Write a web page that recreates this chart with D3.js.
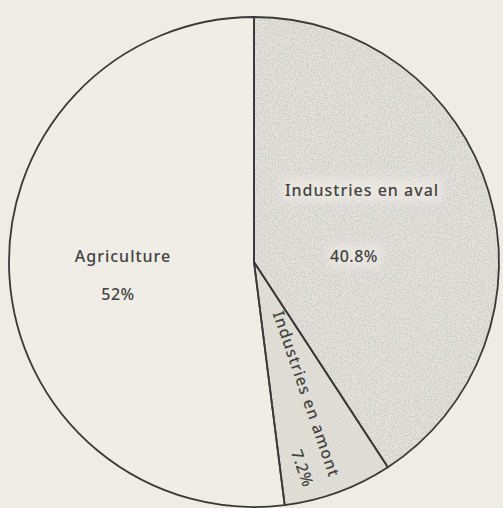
<!DOCTYPE html>
<html>
<head>
<meta charset="utf-8">
<script src="https://cdn.jsdelivr.net/npm/d3@7"></script>
<style>
  body { margin: 0; background: #eeece4; }
  svg { display: block; }
  text { font-family: "Noto Sans", "DejaVu Sans", sans-serif; fill: #43423f; font-weight: 500; }
</style>
</head>
<body>
<div id="chart"></div>
<script>
// data
var sectors = ['Industries en aval', 'Industries en amont', 'Agriculture']
var shares = [40.8, 7.2, 52]
var share_labels = ['40.8%', '7.2%', '52%']

var width = 503, height = 508
var cx = 254, cy = 262, radius = 245

var svg = d3.select('#chart').append('svg')
    .attr('width', width)
    .attr('height', height)

var defs = svg.append('defs')

// coarse stipple for the "aval" slice
var f1 = defs.append('filter').attr('id', 'stip_coarse')
    .attr('x', '-5%').attr('y', '-5%').attr('width', '110%').attr('height', '110%')
f1.append('feTurbulence').attr('type', 'fractalNoise').attr('baseFrequency', 0.7)
    .attr('numOctaves', 1).attr('seed', 4).attr('result', 'n')
f1.append('feColorMatrix').attr('in', 'n').attr('type', 'matrix')
    .attr('values', '0 0 0 0 0.62  0 0 0 0 0.62  0 0 0 0 0.59  8 0 0 0 -3.9')
    .attr('result', 'dots')
f1.append('feComposite').attr('in', 'dots').attr('in2', 'SourceGraphic')
    .attr('operator', 'in').attr('result', 'clip')
var m1 = f1.append('feMerge')
m1.append('feMergeNode').attr('in', 'SourceGraphic')
m1.append('feMergeNode').attr('in', 'clip')

// fine hatching for the "amont" slice
var hatch = defs.append('pattern').attr('id', 'hatch')
    .attr('patternUnits', 'userSpaceOnUse')
    .attr('width', 2.5).attr('height', 2.5)
    .attr('patternTransform', 'rotate(65)')
hatch.append('rect').attr('width', 2.5).attr('height', 2.5).style('fill', '#e3e1d9')
hatch.append('line').attr('x1', 0).attr('y1', 0).attr('x2', 0).attr('y2', 2.5)
    .attr('stroke', '#c9c7bf').style('stroke-width', '0.9px')

// soft halo behind the aval labels
var blur = defs.append('filter').attr('id', 'soft')
    .attr('x', '-30%').attr('y', '-60%').attr('width', '160%').attr('height', '220%')
blur.append('feGaussianBlur').attr('stdDeviation', 4)

var fills = ['#e2e0d8', 'url(#hatch)', '#efede6']
var filters = ['url(#stip_coarse)', null, null]

var pie = d3.pie()
    .sort(null)
    .value(function (d) { return d; })
    .startAngle(0)
    .endAngle(2 * Math.PI)
var data_ready = pie(shares)

var arc = d3.arc().innerRadius(0).outerRadius(radius)

var g = svg.append('g').attr('transform', `translate(${cx},${cy})`)

// slice fills
g.selectAll('path.fill')
    .data(data_ready)
    .enter()
    .append('path')
    .attr('class', 'fill')
    .attr('d', arc)
    .style('fill', function (d, i) { return fills[i] })
    .attr('filter', function (d, i) { return filters[i] })

// label placement (relative to centre)
var name_pos = [[108, -66, 0], [47, 134, 71], [-131, 0, 0]]
var value_pos = [[100, 0, 0], [43, 208, 71], [-136, 38, 0]]

g.append('rect')
    .attr('x', 28).attr('y', -84).attr('width', 160).attr('height', 24)
    .style('fill', '#ebe9e1').style('opacity', 0.85)
    .attr('filter', 'url(#soft)')
g.append('rect')
    .attr('x', 74).attr('y', -18).attr('width', 54).attr('height', 24)
    .style('fill', '#ebe9e1').style('opacity', 0.75)
    .attr('filter', 'url(#soft)')

// outlines on top
g.selectAll('path.edge')
    .data(data_ready)
    .enter()
    .append('path')
    .attr('class', 'edge')
    .attr('d', arc)
    .style('fill', 'none')
    .attr('stroke', '#3b3a37')
    .style('stroke-width', '1.8px')
    .style('stroke-linejoin', 'round')

sectors.forEach(function (s, i) {
    g.append('text')
        .attr('transform', `translate(${name_pos[i][0]},${name_pos[i][1]}) rotate(${name_pos[i][2]})`)
        .attr('text-anchor', 'middle')
        .style('font-size', '16px')
        .style('letter-spacing', '1px')
        .text(s)
    g.append('text')
        .attr('transform', `translate(${value_pos[i][0]},${value_pos[i][1]}) rotate(${value_pos[i][2]})`)
        .attr('text-anchor', 'middle')
        .style('font-size', '16px')
        .style('letter-spacing', '0.5px')
        .text(share_labels[i])
})
</script>
</body>
</html>
